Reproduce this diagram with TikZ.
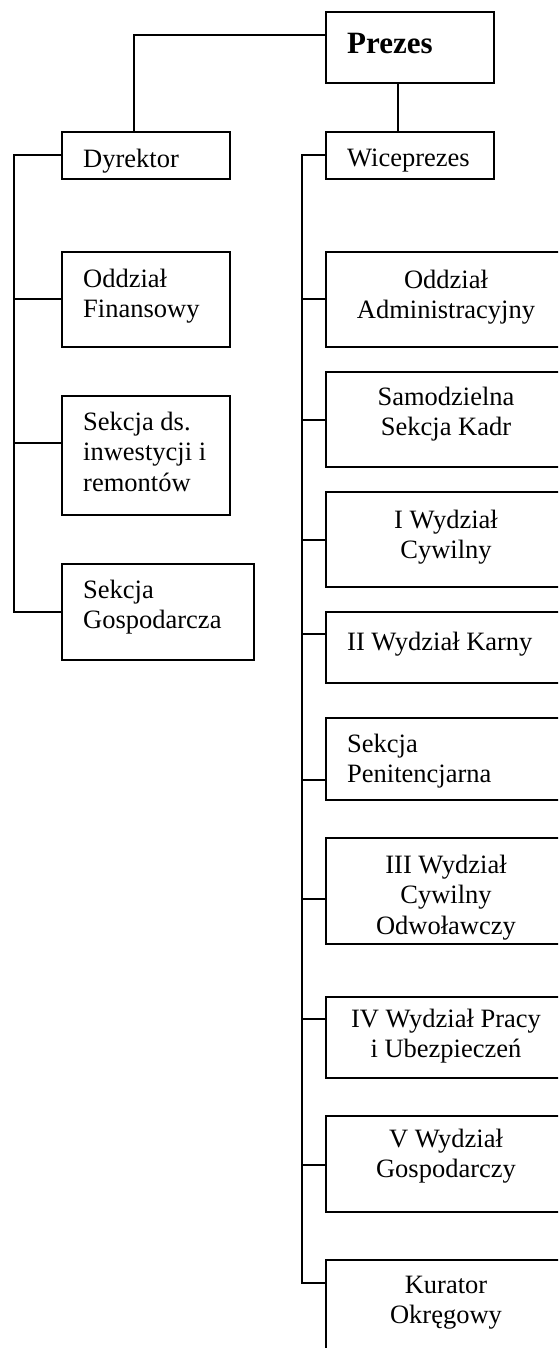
\documentclass[tikz,border=0pt]{standalone}
\usepackage{fontspec}
\setmainfont{Liberation Serif}
\usetikzlibrary{calc}
% zero-width strut that fixes the first baseline below the top of a label
\newcommand{\firstbase}[1]{\rule{0pt}{#1pt}}
\begin{document}
\begin{tikzpicture}[x=1pt,y=-1pt,
  box/.style={draw, line width=2.1pt, rectangle, inner sep=0pt, outer sep=0pt, anchor=north west},
  txt/.style={inner sep=0pt, font=\fontsize{26.5}{30.5}\selectfont},
  ltxt/.style={txt, align=left, anchor=north west},
  ctxt/.style={txt, align=center, anchor=north},
  link/.style={line width=2.1pt, line join=miter}]
\useasboundingbox (0,0) rectangle (558,1348);
\clip (0,0) rectangle (558,1348);

% ---- top level ----
\node[box, minimum width=168, minimum height=71] (prezes) at (326,12) {};
\node[txt, anchor=north west, font=\bfseries\fontsize{31}{34}\selectfont] (prezes-t)
  at ($(prezes.north west)+(21,0)$) {\firstbase{41}Prezes};

\node[box, minimum width=168, minimum height=47] (dyr) at (62,132) {};
\node[ltxt] (dyr-t) at ($(dyr.north west)+(21,0)$) {\firstbase{35}Dyrektor};

\node[box, minimum width=168, minimum height=47] (wice) at (326,132) {};
\node[ltxt] (wice-t) at ($(wice.north west)+(21,0)$) {\firstbase{34}Wiceprezes};

% ---- units under Dyrektor ----
\node[box, minimum width=168, minimum height=95] (ofin) at (62,252) {};
\node[ltxt] (ofin-t) at ($(ofin.north west)+(21,0)$) {\firstbase{35}Oddział\\Finansowy};

\node[box, minimum width=168, minimum height=119] (sinw) at (62,396) {};
\node[ltxt] (sinw-t) at ($(sinw.north west)+(21,0)$) {\firstbase{34}Sekcja ds.\\inwestycji i\\remontów};

\node[box, minimum width=192, minimum height=96] (sgos) at (62,564) {};
\node[ltxt] (sgos-t) at ($(sgos.north west)+(21,0)$) {\firstbase{34}Sekcja\\Gospodarcza};

% ---- units under Wiceprezes ----
\node[box, minimum width=240, minimum height=95] (oadm) at (326,252) {};
\node[ctxt] (oadm-t) at (446,252) {\firstbase{36}Oddział\\Administracyjny};

\node[box, minimum width=240, minimum height=95] (skadr) at (326,372) {};
\node[ctxt] (skadr-t) at (446,372) {\firstbase{33}Samodzielna\\Sekcja Kadr};

\node[box, minimum width=240, minimum height=95] (w1) at (326,492) {};
\node[ctxt] (w1-t) at (446,492) {\firstbase{36}I Wydział\\Cywilny};

\node[box, minimum width=240, minimum height=71] (w2) at (326,612) {};
\node[ltxt] (w2-t) at ($(w2.north west)+(21,0)$) {\firstbase{38}II Wydział Karny};

\node[box, minimum width=240, minimum height=82] (spen) at (326,718) {};
\node[ltxt] (spen-t) at ($(spen.north west)+(21,0)$) {\firstbase{34}Sekcja\\Penitencjarna};

\node[box, minimum width=240, minimum height=106] (w3) at (326,838) {};
\node[ctxt] (w3-t) at (446,838) {\firstbase{35}III Wydział\\Cywilny\\Odwoławczy};

\node[box, minimum width=240, minimum height=81] (w4) at (326,997) {};
\node[ctxt] (w4-t) at (446,997) {\firstbase{30}IV Wydział Pracy\\i Ubezpieczeń};

\node[box, minimum width=240, minimum height=96] (w5) at (326,1116) {};
\node[ctxt] (w5-t) at (446,1116) {\firstbase{31}V Wydział\\Gospodarczy};

\node[box, minimum width=240, minimum height=120] (kur) at (326,1260) {};
\node[ctxt] (kur-t) at (446,1260) {\firstbase{33}Kurator\\Okręgowy};

% ---- connectors ----
\coordinate (pz-l) at ($(prezes.north west)+(0,23)$);
\coordinate (dy-top) at ($(dyr.north west)+(72,0)$);
\draw[link] (pz-l) -| (dy-top);
\coordinate (pz-b) at ($(prezes.south west)+(72,0)$);
\draw[link] (pz-b) -- (pz-b |- wice.north);

% left bus
\coordinate (lbus-top) at (14,155);
\coordinate (lbus-bot) at (14,612);
\draw[link] (dyr.west |- lbus-top) -- (lbus-top) -- (lbus-bot) -- (sgos.west |- lbus-bot);
\draw[link] (ofin.west |- 0,299) -- (lbus-top |- 0,299);
\draw[link] (sinw.west |- 0,443) -- (lbus-top |- 0,443);

% right bus
\coordinate (rbus-top) at (302,155);
\coordinate (rbus-bot) at (302,1283);
\draw[link] (wice.west |- rbus-top) -- (rbus-top) -- (rbus-bot) -- (kur.west |- rbus-bot);
\draw[link] (oadm.west |- 0,299)  -- (rbus-top |- 0,299);
\draw[link] (skadr.west |- 0,420) -- (rbus-top |- 0,420);
\draw[link] (w1.west |- 0,540)    -- (rbus-top |- 0,540);
\draw[link] (w2.west |- 0,634)    -- (rbus-top |- 0,634);
\draw[link] (spen.west |- 0,780)  -- (rbus-top |- 0,780);
\draw[link] (w3.west |- 0,899)    -- (rbus-top |- 0,899);
\draw[link] (w4.west |- 0,1019)   -- (rbus-top |- 0,1019);
\draw[link] (w5.west |- 0,1165)   -- (rbus-top |- 0,1165);
\end{tikzpicture}
\end{document}
